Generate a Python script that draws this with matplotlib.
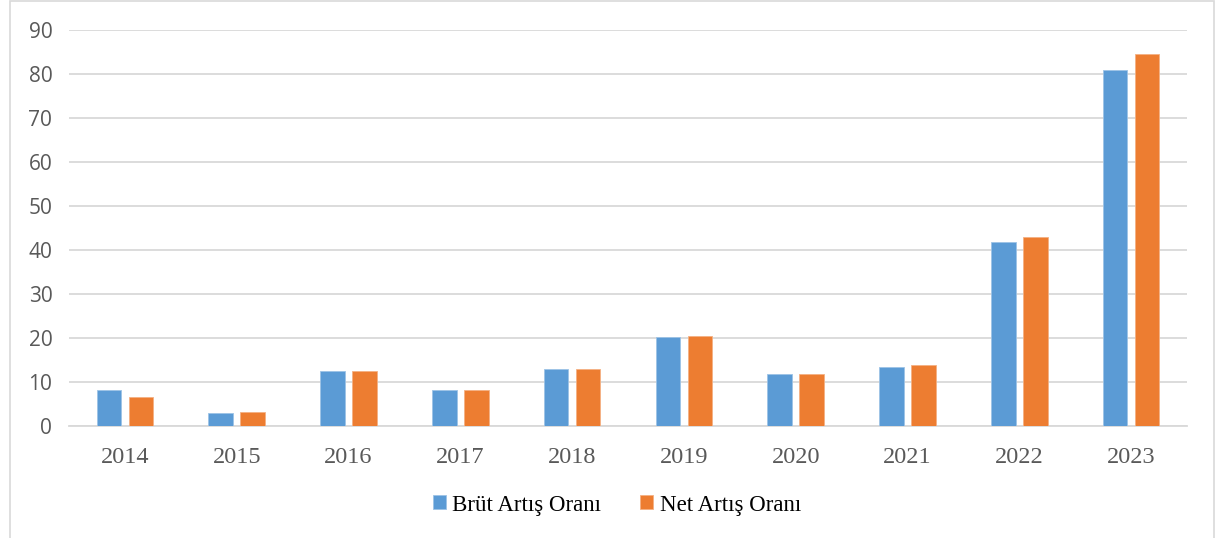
import matplotlib.pyplot as plt
import numpy as np
from matplotlib.patches import Rectangle

# Yıllık artış oranları (%)
years = ["2014", "2015", "2016", "2017", "2018", "2019", "2020", "2021", "2022", "2023"]
brut = [8.1, 3.0, 12.6, 8.2, 13.0, 20.3, 11.8, 13.5, 41.9, 81.0]
net = [6.7, 3.2, 12.4, 8.1, 13.0, 20.5, 11.9, 13.8, 42.9, 84.5]
y_ticks = [0, 10, 20, 30, 40, 50, 60, 70, 80, 90]

BLUE = '#5b9bd5'
ORANGE = '#ed7d31'
GRID = '#d9d9d9'
TXT = '#595959'

W, H = 1216, 538
fig = plt.figure(figsize=(W / 100, H / 100), dpi=100)
ax = fig.add_axes([69 / W, 1 - 426 / H, (1187 - 69) / W, (426 - 30) / H])

x = np.arange(len(years))
bw = 0.22
gap = 0.065
ax.bar(x - (bw + gap) / 2, brut, bw, color=BLUE, edgecolor='#9dc3e6', linewidth=0.6,
       label='Brüt Artış Oranı', zorder=3)
ax.bar(x + (bw + gap) / 2, net, bw, color=ORANGE, edgecolor='#f4b183', linewidth=0.6,
       label='Net Artış Oranı', zorder=3)

ax.set_xlim(-0.5, len(years) - 0.5)
ax.set_ylim(0, 90)
ax.set_yticks(y_ticks)
ax.set_yticklabels([str(v) for v in y_ticks], fontfamily='Open Sans', fontsize=15, color=TXT)
ax.set_xticks(x)
ax.set_xticklabels(years, fontfamily='Liberation Serif', fontsize=17.5, color=TXT)
ax.tick_params(axis='both', length=0)
ax.tick_params(axis='y', pad=12)
ax.tick_params(axis='x', pad=15)

ax.grid(axis='y', color=GRID, linewidth=1.3, zorder=0)
for s in ['top', 'right', 'left']:
    ax.spines[s].set_visible(False)
ax.spines['bottom'].set_color(GRID)
ax.spines['bottom'].set_linewidth(1.3)

leg = fig.legend(loc='center', bbox_to_anchor=(617 / W, 1 - 505 / H), ncol=2, frameon=False,
                 prop={'family': 'Liberation Serif', 'size': 16.5}, handlelength=0.55,
                 handleheight=0.55, handletextpad=0.3, columnspacing=1.7)

# outer chart border
fig.patches.append(Rectangle((10 / W, -0.01), (1214 - 10) / W, 1 - 1 / H + 0.01,
                             transform=fig.transFigure, fill=False, edgecolor=GRID,
                             linewidth=1.2))

fig.savefig('out.png', dpi=100)
